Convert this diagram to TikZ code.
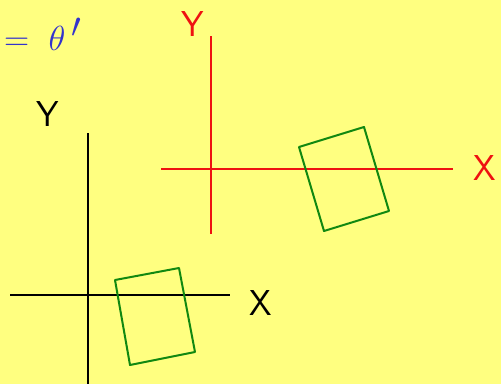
\documentclass[tikz,border=0pt]{standalone}
\usepackage{graphicx}
\usepackage{tikz}
\usetikzlibrary{positioning}
\definecolor{pad}{HTML}{FFFF80}
\definecolor{ink}{HTML}{3333CC}
\definecolor{axisred}{HTML}{EE1111}
\definecolor{boxgreen}{HTML}{118811}

\begin{document}
\begin{tikzpicture}[x=1pt, y=-1pt,
  axis/.style={line width=2pt},
  box/.style={draw=boxgreen, line width=2pt, line join=round},
  hand/.style={font=\sffamily\fontsize{36}{36}\selectfont, inner sep=0pt}
]
  % paper
  \fill[pad] (0,0) rectangle (501,384);
  \useasboundingbox (0,0) rectangle (501,384);

  % blue note
  \node[hand, text=ink, anchor=west] (note) at (4,34) {\scalebox{1.4}{$=\;\theta\,'$}};

  % world axes (red)
  \coordinate (rxl) at (161,169);
  \coordinate (rxr) at (453,169);
  \coordinate (ryt) at (211,36);
  \coordinate (ryb) at (211,234);
  \draw[axis, axisred] (rxl) -- (rxr);
  \draw[axis, axisred] (ryt) -- (ryb);
  \node[hand, text=axisred] (rylab) at (193,24) {Y};
  \node[hand, text=axisred] (rxlab) at (485,168) {X};

  % local axes (black)
  \coordinate (bxl) at (10,295);
  \coordinate (bxr) at (230,295);
  \coordinate (byt) at (88,133);
  \coordinate (byb) at (88,384);
  \draw[axis] (bxl) -- (bxr);
  \draw[axis] (byt) -- (byb);
  \node[hand] (bylab) at (48,114) {Y};
  \node[hand] (bxlab) at (261,303) {X};

  % rotated boxes
  \draw[box] (299,147) -- (364,127) -- (389,211) -- (324,231) -- cycle;
  \draw[box] (115,280) -- (179,268) -- (195,352) -- (130,365) -- cycle;
\end{tikzpicture}
\end{document}
